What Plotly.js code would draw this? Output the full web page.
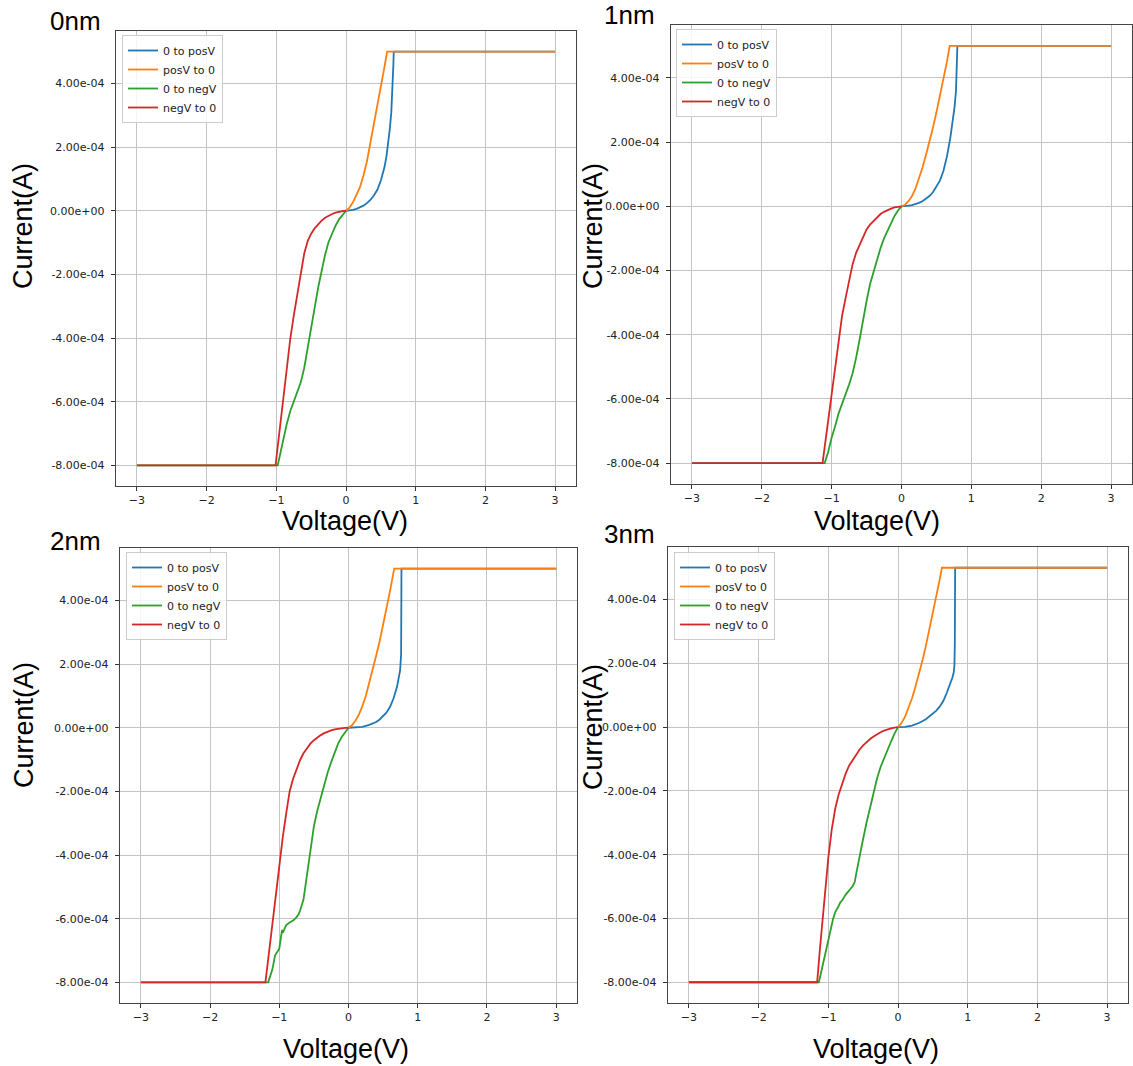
<!DOCTYPE html>
<html>
<head>
<meta charset="utf-8">
<script src="https://cdn.plot.ly/plotly-3.0.1.min.js"></script>
<style>
html,body{margin:0;padding:0;background:#ffffff;}
#chart{width:1133px;height:1066px;}
</style>
</head>
<body>
<div id="chart"></div>
<script>
// ---------------- DATA ----------------
const panelTitles = ["0nm", "1nm", "2nm", "3nm"];
const seriesNames = ["0 to posV", "posV to 0", "0 to negV", "negV to 0"];
const xAxisLabel = "Voltage(V)";
const yAxisLabel = "Current(A)";
const xTickVals = [-3, -2, -1, 0, 1, 2, 3];
const yTickVals = [-8e-4, -6e-4, -4e-4, -2e-4, 0, 2e-4, 4e-4];
const yTickText = ["-8.00e-04", "-6.00e-04", "-4.00e-04", "-2.00e-04", "0.00e+00", "2.00e-04", "4.00e-04"];
const CURRENT_UNIT = 1e-4; // current arrays below are in units of 1e-4 A

// ---- 0nm ----
const v0_posUp   = [0, 0.05, 0.1, 0.15, 0.2, 0.25, 0.3, 0.35, 0.4, 0.45, 0.5, 0.55, 0.58, 0.61, 0.63, 0.65, 0.66, 0.67, 0.68, 0.685, 1, 2, 3];
const i0_posUp   = [0, 0.01, 0.03, 0.06, 0.1, 0.16, 0.24, 0.34, 0.48, 0.66, 0.95, 1.35, 1.7, 2.2, 2.6, 3.1, 3.5, 4.1, 4.6, 5.0, 5.0, 5.0, 5.0];
const v0_posDown = [3, 2, 1, 0.59, 0.55, 0.5, 0.45, 0.4, 0.35, 0.3, 0.25, 0.2, 0.15, 0.1, 0.05, 0];
const i0_posDown = [5, 5, 5, 5, 4.5, 3.9, 3.3, 2.7, 2.1, 1.55, 1.1, 0.74, 0.5, 0.27, 0.1, 0];
const v0_negDown = [0, -0.05, -0.1, -0.15, -0.2, -0.25, -0.3, -0.35, -0.4, -0.45, -0.5, -0.55, -0.6, -0.65, -0.7, -0.75, -0.8, -0.85, -0.9, -0.95, -0.98, -2, -3];
const i0_negDown = [0, -0.12, -0.27, -0.47, -0.7, -0.98, -1.38, -1.85, -2.42, -3.05, -3.7, -4.35, -4.95, -5.4, -5.72, -6.0, -6.3, -6.7, -7.17, -7.65, -8.0, -8.0, -8.0];
const v0_negUp   = [-3, -2, -1.01, -1.0, -0.95, -0.9, -0.85, -0.8, -0.75, -0.7, -0.65, -0.6, -0.55, -0.5, -0.45, -0.4, -0.35, -0.3, -0.25, -0.2, -0.15, -0.1, -0.05, 0];
const i0_negUp   = [-8, -8, -8, -7.8, -6.85, -5.75, -4.85, -4.03, -3.3, -2.6, -1.97, -1.35, -0.95, -0.72, -0.55, -0.42, -0.31, -0.22, -0.15, -0.1, -0.06, -0.03, -0.01, 0];

// ---- 1nm ----
const v1_posUp   = [0, 0.05, 0.1, 0.15, 0.2, 0.25, 0.3, 0.35, 0.4, 0.45, 0.5, 0.55, 0.6, 0.65, 0.7, 0.73, 0.76, 0.78, 0.79, 0.8, 1, 2, 3];
const i1_posUp   = [0, 0.005, 0.02, 0.04, 0.07, 0.11, 0.16, 0.23, 0.32, 0.44, 0.6, 0.8, 1.1, 1.55, 2.15, 2.6, 3.1, 3.6, 4.2, 5.0, 5.0, 5.0, 5.0];
const v1_posDown = [3, 2, 1, 0.69, 0.65, 0.6, 0.55, 0.5, 0.45, 0.4, 0.35, 0.3, 0.25, 0.2, 0.15, 0.1, 0.05, 0];
const i1_posDown = [5, 5, 5, 5, 4.5, 3.95, 3.4, 2.93, 2.45, 2.0, 1.6, 1.2, 0.85, 0.55, 0.32, 0.16, 0.05, 0];
const v1_negDown = [0, -0.05, -0.1, -0.15, -0.2, -0.25, -0.3, -0.35, -0.4, -0.45, -0.5, -0.55, -0.6, -0.65, -0.7, -0.75, -0.8, -0.85, -0.9, -0.95, -1.0, -1.05, -1.1, -2, -3];
const i1_negDown = [0, -0.13, -0.3, -0.52, -0.75, -1.0, -1.3, -1.65, -2.0, -2.42, -2.95, -3.5, -4.15, -4.72, -5.2, -5.55, -5.85, -6.1, -6.45, -6.85, -7.2, -7.65, -8.0, -8.0, -8.0];
const v1_negUp   = [-3, -2, -1.13, -1.1, -1.05, -1.0, -0.95, -0.9, -0.85, -0.8, -0.75, -0.7, -0.65, -0.6, -0.55, -0.5, -0.45, -0.4, -0.35, -0.3, -0.25, -0.2, -0.15, -0.1, -0.05, 0];
const i1_negUp   = [-8, -8, -8, -7.5, -6.65, -5.8, -4.95, -4.15, -3.4, -2.85, -2.3, -1.8, -1.45, -1.2, -0.93, -0.72, -0.57, -0.45, -0.33, -0.24, -0.17, -0.11, -0.07, -0.035, -0.01, 0];

// ---- 2nm ----
const v2_posUp   = [0, 0.1, 0.2, 0.3, 0.35, 0.4, 0.45, 0.5, 0.55, 0.6, 0.65, 0.7, 0.73, 0.745, 0.76, 0.765, 1, 2, 3];
const i2_posUp   = [0, 0.01, 0.03, 0.09, 0.13, 0.18, 0.26, 0.36, 0.48, 0.66, 0.92, 1.28, 1.6, 1.8, 2.3, 5.0, 5.0, 5.0, 5.0];
const v2_posDown = [3, 2, 1, 0.66, 0.6, 0.55, 0.5, 0.45, 0.4, 0.35, 0.3, 0.25, 0.2, 0.15, 0.1, 0.05, 0];
const i2_posDown = [5, 5, 5, 5, 4.3, 3.75, 3.2, 2.72, 2.27, 1.82, 1.4, 1.0, 0.68, 0.41, 0.22, 0.08, 0];
const v2_negDown = [0, -0.05, -0.1, -0.15, -0.2, -0.25, -0.3, -0.35, -0.4, -0.45, -0.5, -0.55, -0.6, -0.65, -0.7, -0.72, -0.75, -0.8, -0.85, -0.9, -0.93, -0.95, -0.96, -0.98, -1.0, -1.03, -1.06, -1.1, -1.13, -1.16, -2, -3];
const i2_negDown = [0, -0.15, -0.3, -0.5, -0.77, -1.08, -1.4, -1.8, -2.15, -2.6, -3.1, -3.9, -4.7, -5.4, -5.75, -5.86, -5.95, -6.06, -6.12, -6.2, -6.35, -6.45, -6.35, -6.6, -6.95, -7.05, -7.15, -7.6, -7.8, -8.0, -8.0, -8.0];
const v2_negUp   = [-3, -2, -1.2, -1.15, -1.1, -1.05, -1.0, -0.95, -0.9, -0.85, -0.8, -0.75, -0.7, -0.65, -0.6, -0.55, -0.5, -0.45, -0.4, -0.35, -0.3, -0.25, -0.2, -0.15, -0.1, -0.05, 0];
const i2_negUp   = [-8, -8, -8, -7.1, -6.2, -5.25, -4.3, -3.45, -2.7, -2.0, -1.6, -1.28, -1.02, -0.8, -0.64, -0.5, -0.39, -0.3, -0.23, -0.17, -0.12, -0.08, -0.05, -0.03, -0.015, -0.005, 0];

// ---- 3nm ----
const v3_posUp   = [0, 0.1, 0.2, 0.3, 0.4, 0.45, 0.5, 0.55, 0.6, 0.65, 0.7, 0.75, 0.78, 0.8, 0.81, 0.815, 0.82, 1, 2, 3];
const i3_posUp   = [0, 0.01, 0.05, 0.13, 0.25, 0.33, 0.42, 0.52, 0.65, 0.82, 1.08, 1.35, 1.55, 1.72, 1.95, 2.6, 5.0, 5.0, 5.0, 5.0];
const v3_posDown = [3, 2, 1, 0.63, 0.6, 0.55, 0.5, 0.45, 0.4, 0.35, 0.3, 0.25, 0.2, 0.15, 0.1, 0.05, 0];
const i3_posDown = [5, 5, 5, 5, 4.65, 4.1, 3.55, 3.05, 2.55, 2.08, 1.65, 1.27, 0.9, 0.58, 0.32, 0.13, 0];
const v3_negDown = [0, -0.05, -0.1, -0.15, -0.2, -0.25, -0.3, -0.35, -0.4, -0.45, -0.5, -0.55, -0.6, -0.62, -0.65, -0.7, -0.75, -0.8, -0.83, -0.85, -0.88, -0.9, -0.93, -0.96, -1.0, -1.05, -1.1, -1.135, -2, -3];
const i3_negDown = [0, -0.2, -0.45, -0.7, -0.95, -1.25, -1.6, -2.03, -2.5, -2.98, -3.5, -4.0, -4.6, -4.85, -4.98, -5.12, -5.25, -5.43, -5.5, -5.6, -5.72, -5.8, -6.0, -6.3, -6.7, -7.15, -7.6, -8.0, -8.0, -8.0];
const v3_negUp   = [-3, -2, -1.16, -1.12, -1.08, -1.04, -1.0, -0.95, -0.9, -0.85, -0.8, -0.75, -0.7, -0.65, -0.6, -0.55, -0.5, -0.45, -0.4, -0.35, -0.3, -0.25, -0.2, -0.15, -0.1, -0.05, 0];
const i3_negUp   = [-8, -8, -8, -6.95, -5.95, -4.95, -4.1, -3.2, -2.55, -2.1, -1.75, -1.45, -1.2, -1.02, -0.85, -0.7, -0.57, -0.46, -0.37, -0.29, -0.22, -0.16, -0.11, -0.07, -0.04, -0.015, 0];

const panelData = [
  [[v0_posUp, i0_posUp], [v0_posDown, i0_posDown], [v0_negDown, i0_negDown], [v0_negUp, i0_negUp]],
  [[v1_posUp, i1_posUp], [v1_posDown, i1_posDown], [v1_negDown, i1_negDown], [v1_negUp, i1_negUp]],
  [[v2_posUp, i2_posUp], [v2_posDown, i2_posDown], [v2_negDown, i2_negDown], [v2_negUp, i2_negUp]],
  [[v3_posUp, i3_posUp], [v3_posDown, i3_posDown], [v3_negDown, i3_negDown], [v3_negUp, i3_negUp]]
];

// ---------------- LAYOUT / STYLE ----------------
const W = 1133, H = 1066;
const colors = ["#1f77b4", "#ff7f0e", "#2ca02c", "#d62728"];
const px = x => x / W;
const py = y => 1 - y / H;

// pixel boxes of each axes frame and label anchors
const panels = [
  {l: 116, r: 576,  t: 31,  b: 486,  leg: [122, 35],  title: [48, 21],  ylab: [23, 226], xlab: [345, 521]},
  {l: 671, r: 1132, t: 25,  b: 484,  leg: [676, 29],  title: [602, 15], ylab: [593, 226], xlab: [877, 521]},
  {l: 120, r: 577,  t: 548, b: 1003, leg: [126, 552], title: [48, 541], ylab: [24, 725], xlab: [346, 1049]},
  {l: 668, r: 1128, t: 547, b: 1003, leg: [674, 552], title: [602, 534], ylab: [593, 727], xlab: [876, 1049]}
];

const tickFont = {family: "DejaVu Sans, Verdana, sans-serif", size: 11, color: "#222"};
const bigFont = {family: "Liberation Sans, Arial, sans-serif", size: 27, color: "#000"};
const titleFont = {family: "Liberation Sans, Arial, sans-serif", size: 26, color: "#000"};

const traces = [];
const layout = {
  width: W, height: H,
  margin: {l: 0, r: 0, t: 0, b: 0, pad: 0},
  paper_bgcolor: "#ffffff",
  plot_bgcolor: "#ffffff",
  showlegend: true,
  annotations: []
};

panels.forEach((p, k) => {
  const n = k === 0 ? "" : String(k + 1);
  const xa = "xaxis" + n, ya = "yaxis" + n, lg = "legend" + n;
  layout[xa] = {
    domain: [px(p.l), px(p.r)],
    anchor: "y" + n,
    range: [-3.3, 3.3],
    tickvals: xTickVals,
    ticks: "outside", ticklen: 4, tickwidth: 1, tickcolor: "#333",
    tickfont: tickFont,
    showgrid: true, gridcolor: "#c4c4c4", gridwidth: 1,
    zeroline: false,
    showline: true, linecolor: "#444", linewidth: 1.2, mirror: true,
    fixedrange: true
  };
  layout[ya] = {
    domain: [py(p.b), py(p.t)],
    anchor: "x" + n,
    range: [-8.65e-4, 5.65e-4],
    tickvals: yTickVals, ticktext: yTickText,
    ticks: "outside", ticklen: 4, tickwidth: 1, tickcolor: "#333",
    ticklabelstandoff: 4,
    tickfont: tickFont,
    showgrid: true, gridcolor: "#c4c4c4", gridwidth: 1,
    zeroline: false,
    showline: true, linecolor: "#444", linewidth: 1.2, mirror: true,
    fixedrange: true
  };
  layout[lg] = {
    x: px(p.leg[0]), y: py(p.leg[1]), xanchor: "left", yanchor: "top",
    xref: "paper", yref: "paper",
    bgcolor: "rgba(255,255,255,0.85)", bordercolor: "#cccccc", borderwidth: 1,
    font: tickFont, itemwidth: 30, tracegroupgap: 0, traceorder: "normal"
  };
  panelData[k].forEach((s, j) => {
    traces.push({
      type: "scatter", mode: "lines",
      x: s[0], y: s[1].map(v => v * CURRENT_UNIT),
      name: seriesNames[j],
      line: {color: colors[j], width: 1.8},
      xaxis: "x" + n, yaxis: "y" + n, legend: lg,
      hoverinfo: "skip"
    });
  });
  layout.annotations.push({
    text: panelTitles[k], xref: "paper", yref: "paper",
    x: px(p.title[0]), y: py(p.title[1]), xanchor: "left", yanchor: "middle",
    showarrow: false, font: titleFont
  });
  layout.annotations.push({
    text: yAxisLabel, xref: "paper", yref: "paper",
    x: px(p.ylab[0]), y: py(p.ylab[1]), xanchor: "center", yanchor: "middle",
    textangle: -90, showarrow: false, font: bigFont
  });
  layout.annotations.push({
    text: xAxisLabel, xref: "paper", yref: "paper",
    x: px(p.xlab[0]), y: py(p.xlab[1]), xanchor: "center", yanchor: "middle",
    showarrow: false, font: bigFont
  });
});

Plotly.newPlot("chart", traces, layout, {displayModeBar: false, staticPlot: true});
</script>
</body>
</html>
